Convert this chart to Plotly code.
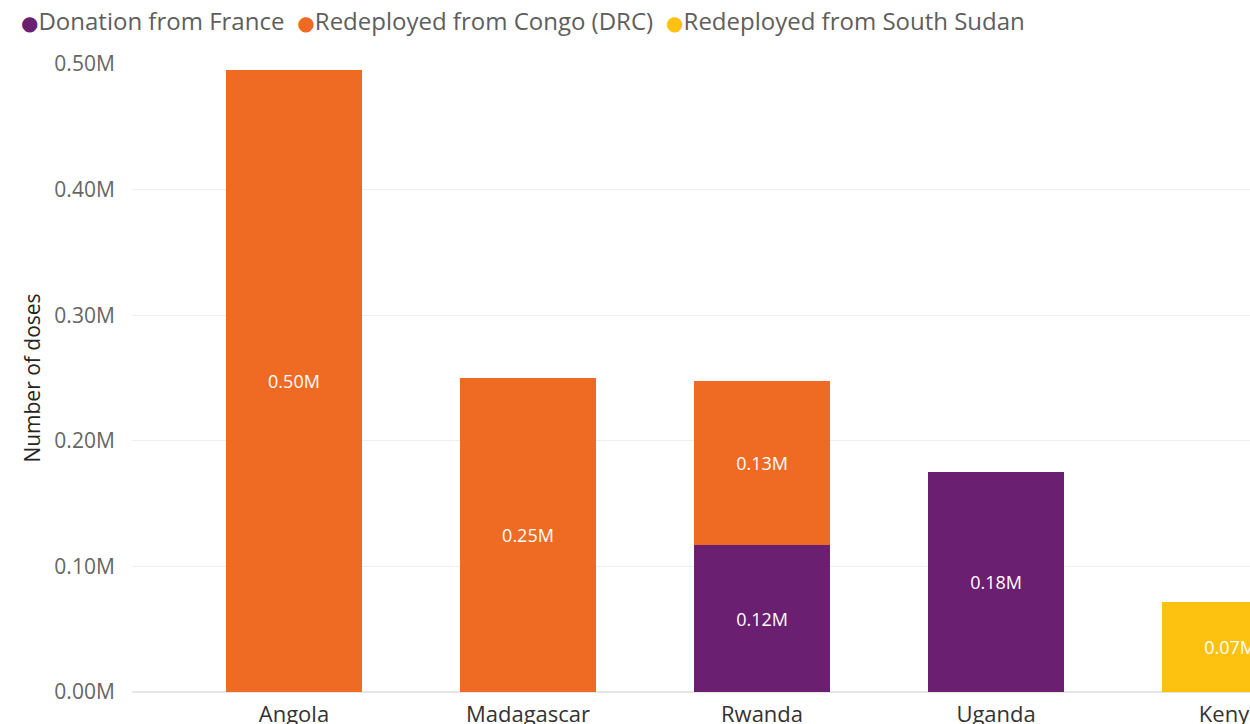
import plotly.graph_objects as go

countries = ["Angola", "Madagascar", "Rwanda", "Uganda", "Kenya"]
france = [0, 0, 117000, 175000, 0]
congo = [495000, 250000, 130600, 0, 0]
south_sudan = [0, 0, 0, 0, 71700]

france_labels = ["", "", "0.12M", "0.18M", ""]
congo_labels = ["0.50M", "0.25M", "0.13M", "", ""]
sudan_labels = ["", "", "", "", "0.07M"]

y_ticks = [0, 100000, 200000, 300000, 400000, 500000]
y_tick_text = ["0.00M", "0.10M", "0.20M", "0.30M", "0.40M", "0.50M"]

series_names = ["Donation from France", "Redeployed from Congo (DRC)", "Redeployed from South Sudan"]
series_values = [france, congo, south_sudan]
series_labels = [france_labels, congo_labels, sudan_labels]
series_colors = ["#6B1F70", "#EF6A23", "#FDC10F"]

FONT = "Segoe UI, Open Sans, sans-serif"

fig = go.Figure()
for name, vals, labels, color in zip(series_names, series_values, series_labels, series_colors):
    fig.add_trace(go.Bar(
        x=countries, y=vals, name=name, marker_color=color,
        marker_line_width=0,
        text=labels, textposition="inside", insidetextanchor="middle",
        textfont=dict(color="white", size=18, family=FONT),
        showlegend=False, hoverinfo="skip",
    ))

legend_html = '<span style="font-size:50px"> </span>'.join(
    f'<span style="font-family:DejaVu Sans;font-size:20px;color:{c}">●</span>{n}'
    for n, c in zip(series_names, series_colors)
)
fig.add_annotation(
    text=legend_html, xref="paper", yref="paper",
    x=0, y=1, xanchor="left", yanchor="middle",
    xshift=-113, yshift=53,
    showarrow=False, font=dict(size=24, color="#605E5C", family=FONT),
)

fig.update_layout(
    width=1250, height=724,
    barmode="stack", bargap=0.42,
    plot_bgcolor="white", paper_bgcolor="white",
    margin=dict(l=132, r=0, t=64, b=32),
    font=dict(family=FONT, color="#605E5C"),
    showlegend=False,
    uniformtext=dict(minsize=18, mode="show"),
)
fig.update_xaxes(
    range=[-0.692, 4.085], automargin=False,
    tickfont=dict(size=22, color="#333333"), showgrid=False,
    showline=False, ticks="outside", ticklen=3, tickcolor="rgba(0,0,0,0)",
)
fig.update_yaxes(
    range=[0, 500000], automargin=False,
    tickvals=y_ticks, ticktext=y_tick_text,
    tickfont=dict(size=21, color="#666666"),
    showgrid=True, gridcolor="#EFEFEF", gridwidth=1,
    zeroline=True, zerolinecolor="#E6E6E6",
    ticks="outside", ticklen=12, tickcolor="rgba(0,0,0,0)",
    title=dict(text="Number of doses", font=dict(size=21, color="#252423"), standoff=8),
)

fig.write_html("out.html", config={"displayModeBar": False},
               post_script="document.body.style.margin='0';document.body.style.overflow='hidden';")
